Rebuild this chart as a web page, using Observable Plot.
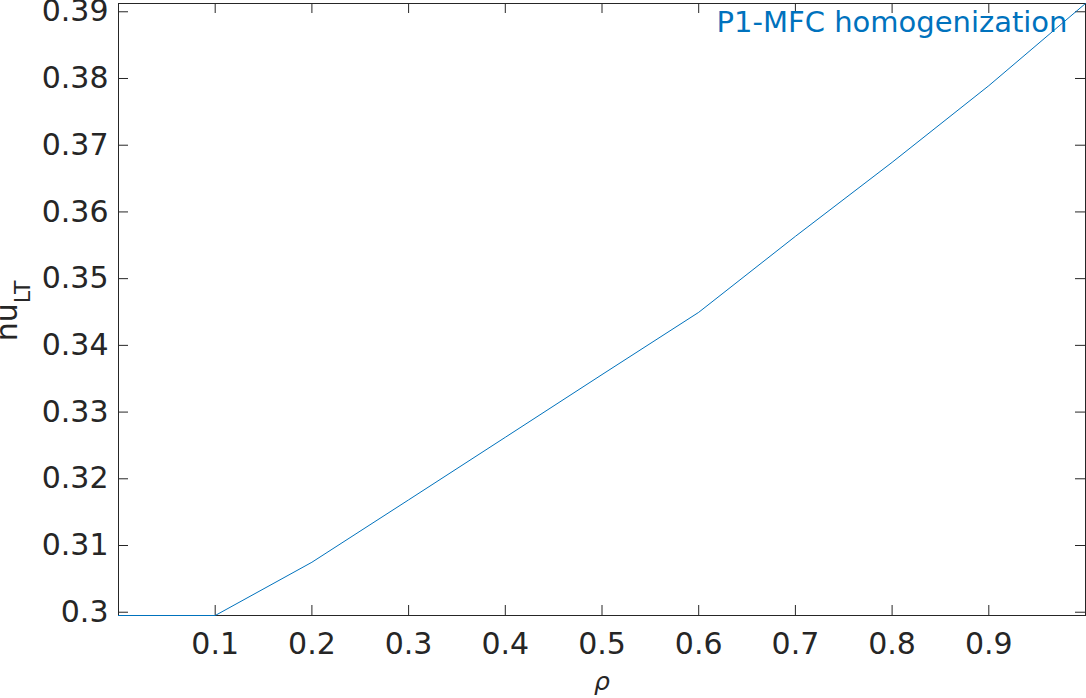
<!DOCTYPE html>
<html>
<head>
<meta charset="utf-8">
<script src="https://cdn.jsdelivr.net/npm/d3@7"></script>
<script src="https://cdn.jsdelivr.net/npm/@observablehq/plot@0.6"></script>
<style>
  html, body { margin: 0; padding: 0; background: white; }
</style>
</head>
<body>
<div id="chart"></div>
<script>
// Data
const rho  = [0.0, 0.1, 0.2, 0.3, 0.4, 0.5, 0.6, 0.7, 0.8, 0.9, 1.0];
const nuLT = [0.29951, 0.29951, 0.30749, 0.31684, 0.32622, 0.33562, 0.34495, 0.35634, 0.36743, 0.37892, 0.39124];
const xTicks = [0.1, 0.2, 0.3, 0.4, 0.5, 0.6, 0.7, 0.8, 0.9];
const yTicks = [0.30, 0.31, 0.32, 0.33, 0.34, 0.35, 0.36, 0.37, 0.38, 0.39];
const seriesName = "P1-MFC homogenization";
const xLabel = "ρ";
const yLabelMain = "nu";
const yLabelSub = "LT";

const data = rho.map((r, i) => ({rho: r, nu: nuLT[i]}));

const W = 1086, H = 698;
const mL = 118, mR = 1, mT = 3, mB = 83;
const plotW = W - mL - mR, plotH = H - mT - mB;
const axisColor = "#262626";
const lineColor = "#0072BD";
const fmt = d => String(+d.toFixed(2));

const chart = Plot.plot({
  width: W,
  height: H,
  marginLeft: mL,
  marginRight: mR,
  marginTop: mT,
  marginBottom: mB,
  style: {fontFamily: "DejaVu Sans", fontSize: "30px", color: axisColor, background: "white", overflow: "visible"},
  x: {domain: [0, 1]},
  y: {domain: [0.29951, 0.39124]},
  marks: [
    // inward ticks on all four sides
    Plot.tickX(xTicks, {x: d => d, stroke: axisColor, insetTop: plotH - 10}),
    Plot.tickX(xTicks, {x: d => d, stroke: axisColor, insetBottom: plotH - 10}),
    Plot.tickY(yTicks, {y: d => d, stroke: axisColor, insetRight: plotW - 10}),
    Plot.tickY(yTicks, {y: d => d, stroke: axisColor, insetLeft: plotW - 10}),
    Plot.axisX(xTicks, {tickSize: 0, tickPadding: 17, tickFormat: fmt, label: null, fontSize: 30, fill: axisColor}),
    Plot.axisY(yTicks, {tickSize: 0, tickPadding: 10, tickFormat: fmt, label: null, fontSize: 30, fill: axisColor}),
    Plot.frame({stroke: axisColor}),
    Plot.line(data, {x: "rho", y: "nu", stroke: lineColor, strokeWidth: 1}),
    Plot.text([seriesName], {frameAnchor: "top-right", textAnchor: "end", lineAnchor: "top", dx: -18, dy: 8, fill: lineColor, fontSize: 29}),
    Plot.text([xLabel], {frameAnchor: "bottom", lineAnchor: "top", dy: 57, fontSize: 25, fontStyle: "italic", fill: axisColor})
  ]
});

document.getElementById("chart").appendChild(chart);

// y-axis label with subscript
const svg = d3.select(chart.tagName.toLowerCase() === "svg" ? chart : chart.querySelector("svg"));
const yl = svg.append("text")
  .attr("transform", `translate(17,${mT + plotH / 2 + 2}) rotate(-90)`)
  .attr("text-anchor", "middle")
  .attr("fill", axisColor)
  .attr("font-family", "DejaVu Sans");
yl.append("tspan").attr("font-size", 30).text(yLabelMain);
yl.append("tspan").attr("font-size", 22).attr("dy", 13).text(yLabelSub);
</script>
</body>
</html>
